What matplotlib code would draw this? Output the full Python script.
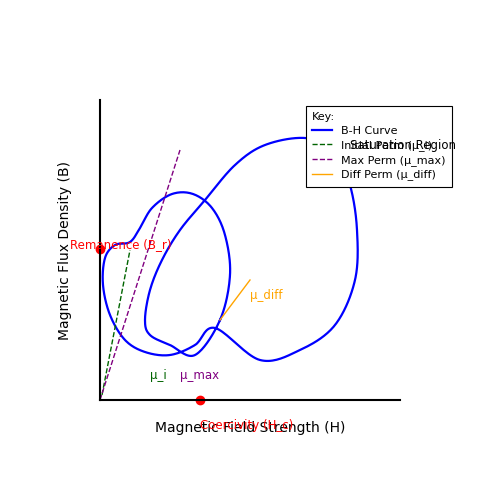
import matplotlib
matplotlib.use("Agg")
import matplotlib.pyplot as plt
import numpy as np

# B-H curve control points (H, B) in axis units
curve_h = [120,130,125,112,93,72,52,40,30,15,5,3,10,25,45,70,95,115,160,200,235,255,257,250,235,205,165,135,105,80,62,50,45,50,70,95]
curve_b = [80,125,165,192,206,206,192,172,158,155,142,115,85,60,48,45,55,72,40,50,75,120,170,215,250,262,255,235,200,170,140,110,80,65,55,45]
init_h = [2, 30]; init_b = [5, 150]
max_h = [0, 80]; max_b = [0, 250]
diff_h = [120, 150]; diff_b = [80, 120]
rem_h, rem_b = 0, 151
coer_h, coer_b = 100, 0

def smooth_closed(x, y, n=20):
    P = np.column_stack([x, y]).astype(float)
    m = len(P); out = []
    for i in range(m):
        p0, p1, p2, p3 = P[i-1], P[i], P[(i+1) % m], P[(i+2) % m]
        for t in np.linspace(0, 1, n, endpoint=False):
            out.append(0.5*((2*p1) + (-p0+p2)*t + (2*p0-5*p1+4*p2-p3)*t**2 + (-p0+3*p1-3*p2+p3)*t**3))
    out.append(out[0])
    out = np.array(out)
    return out[:, 0], out[:, 1]

fig = plt.figure(figsize=(5,5), dpi=100)
ax = fig.add_axes([0.2,0.2,0.6,0.6])
sx, sy = smooth_closed(curve_h, curve_b)
ax.plot(sx, sy, color='blue', lw=1.6, label='B-H Curve')
ax.plot(init_h, init_b, color='darkgreen', ls='--', lw=1, label='Initial Perm (μ_i)')
ax.plot(max_h, max_b, color='purple', ls='--', lw=1, label='Max Perm (μ_max)')
ax.plot(diff_h, diff_b, color='orange', lw=1, label='Diff Perm (μ_diff)')
ax.plot([rem_h],[rem_b],'o',color='red',ms=6,clip_on=False)
ax.plot([coer_h],[coer_b],'o',color='red',ms=6,clip_on=False)
ax.text(-30,155,'Remanence (B_r)',color='red',fontsize=8.5,va='center')
ax.text(100,-26,'Coercivity (H_c)',color='red',fontsize=8.5,va='center')
ax.text(50,24,'μ_i',color='darkgreen',fontsize=8.5,va='center')
ax.text(80,24,'μ_max',color='purple',fontsize=8.5,va='center')
ax.text(150,104,'μ_diff',color='orange',fontsize=8.5,va='center')
ax.set_xlim(0,300); ax.set_ylim(0,300)
ax.set_xticks([]); ax.set_yticks([])
for s in ['top','right']:
    ax.spines[s].set_visible(False)
ax.spines['left'].set_linewidth(1.5); ax.spines['bottom'].set_linewidth(1.5)
ax.set_xlabel('Magnetic Field Strength (H)', fontsize=10, labelpad=15)
ax.set_ylabel('Magnetic Flux Density (B)', fontsize=10, labelpad=20)
leg = ax.legend(loc='upper left', bbox_to_anchor=(0.667,1.0), title='Key:', fontsize=8,
                title_fontsize=8, fancybox=False, edgecolor='black', framealpha=1,
                handlelength=1.8, labelspacing=0.35, borderpad=0.6, handletextpad=0.8)
leg._legend_box.align = 'left'
leg.get_frame().set_linewidth(0.8)
leg.set_zorder(5)
ax.text(250,254,'Saturation Region',color='black',fontsize=8.5,va='center',zorder=10)
fig.savefig('out.png')
